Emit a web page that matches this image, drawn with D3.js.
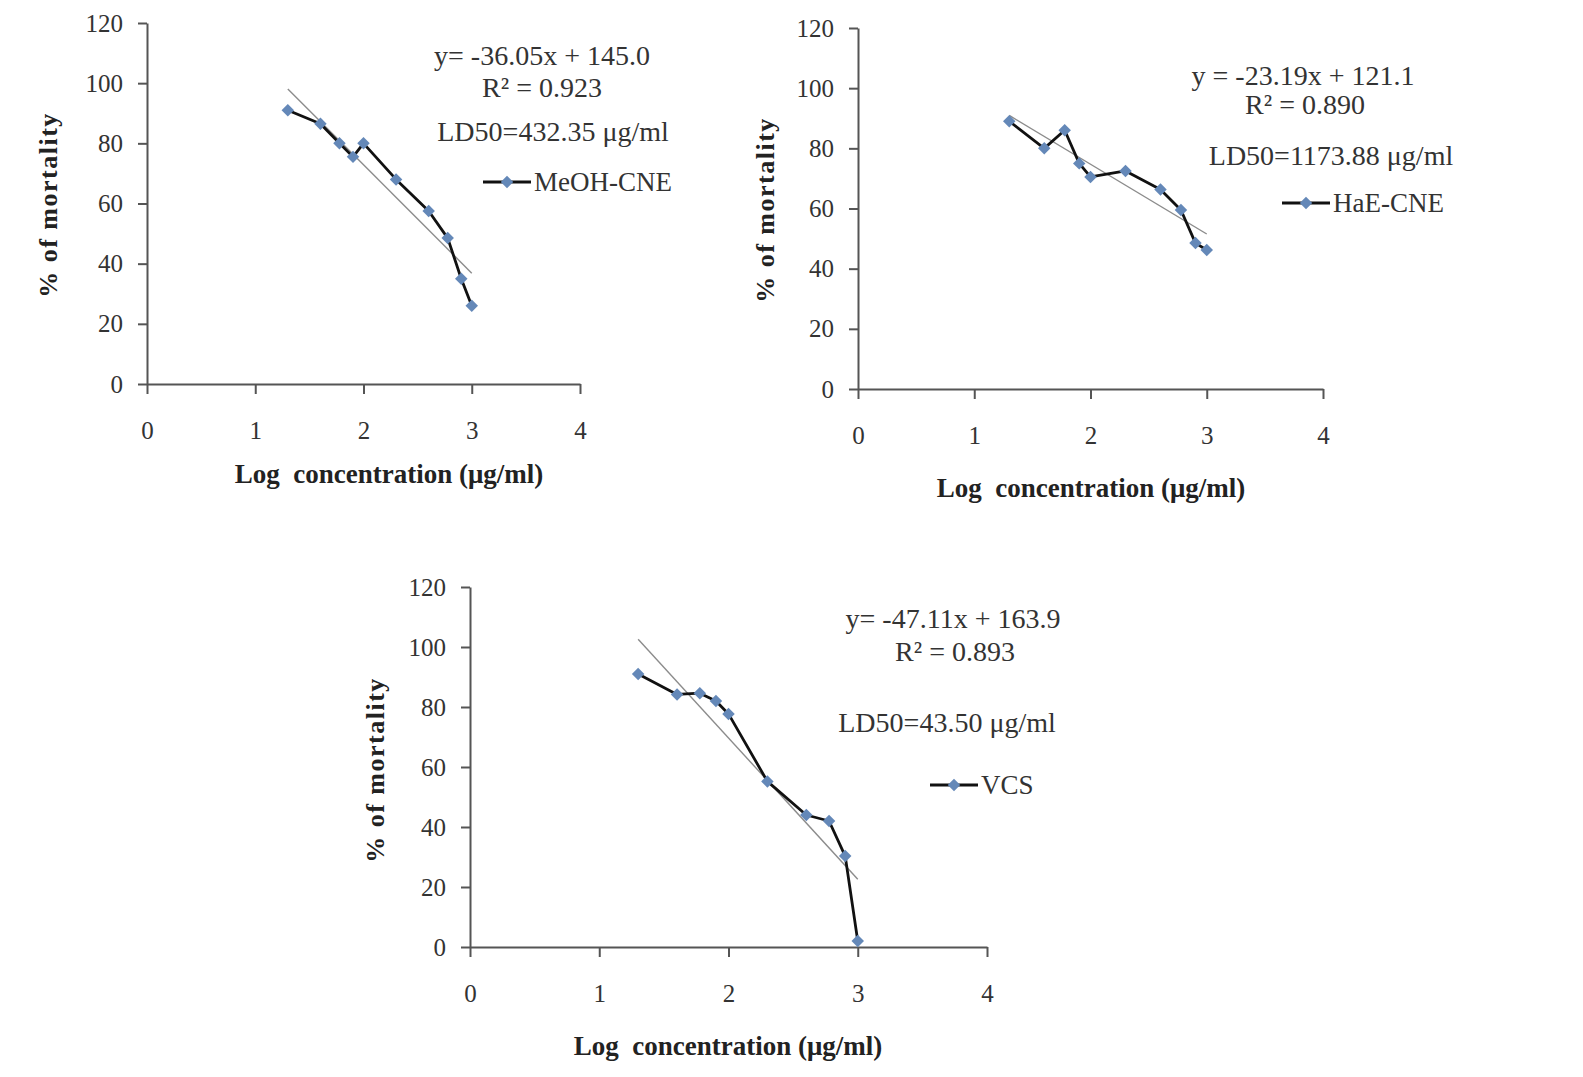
<!DOCTYPE html>
<html>
<head>
<meta charset="utf-8">
<script src="https://cdn.jsdelivr.net/npm/d3@7"></script>
<style>
  body { margin: 0; background: #fff; }
  svg text { font-family: "Liberation Serif", "Times New Roman", serif; }
</style>
</head>
<body>
<div class="chart"></div>
<script>
// log10 of concentrations 20..1000 ug/ml
const logConc = [1.301, 1.602, 1.778, 1.903, 2.0, 2.301, 2.602, 2.778, 2.903, 3.0]
const meohMortality = [91, 86.5, 80, 75.5, 80, 68, 57.5, 48.5, 35, 26]
const haeMortality = [89, 80, 86, 75, 70.5, 72.5, 66.3, 59.5, 48.5, 46.2]
const vcsMortality = [91, 84.2, 84.6, 82, 77.7, 55.2, 44, 42, 30.3, 2]

const seriesNames = ["MeOH-CNE", "HaE-CNE", "VCS"]
const slopes = [-36.05, -23.19, -47.11]
const intercepts = [145.0, 121.1, 163.9]
const rSquared = ["0.923", "0.890", "0.893"]
const ld50 = ["432.35", "1173.88", "43.50"]

const xTicks = [0, 1, 2, 3, 4]
const yTicks = [0, 20, 40, 60, 80, 100, 120]

const svgWidth = 1583
const svgHeight = 1077

const svg = d3.select(".chart").append("svg")
    .attr("width", svgWidth)
    .attr("height", svgHeight)

// panel boxes (pixel frame of each small chart) and where the notes sit
const panels = [
    {values: meohMortality, left: 147, right: 580, top: 23, bottom: 384,
     eq: [542, 65], r2: [542, 97], ld: [553, 141], leg: [483, 182], eqText: "y= ",
     yTitle: [48, 205], xTitle: [389, 483]},
    {values: haeMortality, left: 858, right: 1323, top: 28, bottom: 389,
     eq: [1303, 85], r2: [1305, 114], ld: [1331, 165], leg: [1282, 203], eqText: "y = ",
     yTitle: [765, 210], xTitle: [1091, 497]},
    {values: vcsMortality, left: 470, right: 987, top: 587, bottom: 947,
     eq: [953, 628], r2: [955, 661], ld: [947, 732], leg: [930, 785], eqText: "y= ",
     yTitle: [375, 770], xTitle: [728, 1055]}
]

const axisColor = "#555"
const textColor = "#333"
const markerColor = "#6488b8"

panels.forEach((p, i) => {
    const xScale = d3.scaleLinear().domain([0, 4]).range([p.left, p.right])
    const yScale = d3.scaleLinear().domain([0, 120]).range([p.bottom, p.top])

    const g = svg.append("g")

    // axes
    const xAxis = d3.axisBottom(xScale).tickValues(xTicks).tickFormat(d3.format("d"))
        .tickSize(10).tickSizeOuter(0).tickPadding(27)
    const yAxis = d3.axisLeft(yScale).tickValues(yTicks).tickSize(9).tickSizeOuter(0).tickPadding(15)

    const gx = g.append("g")
        .attr("transform", `translate(0, ${p.bottom})`)
        .call(xAxis)
    const gy = g.append("g")
        .attr("transform", `translate(${p.left}, 0)`)
        .call(yAxis)

    ;[gx, gy].forEach(a => {
        a.select(".domain").attr("stroke", axisColor).attr("stroke-width", 2)
        a.selectAll(".tick line").attr("stroke", axisColor).attr("stroke-width", 2)
        a.selectAll(".tick text")
            .attr("fill", textColor)
            .attr("font-family", "Liberation Serif")
            .attr("font-size", "25px")
    })

    // trend line
    const trendX = [d3.min(logConc), d3.max(logConc)]
    g.append("line")
        .attr("x1", xScale(trendX[0]))
        .attr("y1", yScale(slopes[i] * trendX[0] + intercepts[i]))
        .attr("x2", xScale(trendX[1]))
        .attr("y2", yScale(slopes[i] * trendX[1] + intercepts[i]))
        .attr("stroke", "#8c8c8c")
        .attr("stroke-width", 1.4)

    // data line
    const line = d3.line()
        .x((d, j) => xScale(logConc[j]))
        .y(d => yScale(d))
    g.append("path")
        .datum(p.values)
        .attr("d", line)
        .attr("fill", "none")
        .attr("stroke", "#111")
        .attr("stroke-width", 2.8)
        .attr("stroke-linejoin", "round")

    const diamond = d3.symbol().type(d3.symbolSquare).size(78)
    g.selectAll(".pt")
        .data(p.values)
        .join("path")
        .attr("class", "pt")
        .attr("d", diamond)
        .attr("transform", (d, j) => `translate(${xScale(logConc[j])}, ${yScale(d)}) rotate(45)`)
        .attr("fill", markerColor)

    // equation notes
    const note = (pos, txt) => g.append("text")
        .attr("x", pos[0]).attr("y", pos[1])
        .attr("text-anchor", "middle")
        .attr("fill", textColor)
        .attr("font-size", "28px")
        .text(txt)

    const sign = intercepts[i] >= 0 ? "+" : "-"
    note(p.eq, `${p.eqText}${slopes[i].toFixed(2)}x ${sign} ${Math.abs(intercepts[i]).toFixed(1)}`)
    note(p.r2, `R² = ${rSquared[i]}`)
    note(p.ld, `LD50=${ld50[i]} μg/ml`)

    // legend
    g.append("line")
        .attr("x1", p.leg[0]).attr("x2", p.leg[0] + 48)
        .attr("y1", p.leg[1]).attr("y2", p.leg[1])
        .attr("stroke", "#111").attr("stroke-width", 2.8)
    g.append("path")
        .attr("d", diamond)
        .attr("transform", `translate(${p.leg[0] + 24}, ${p.leg[1]}) rotate(45)`)
        .attr("fill", markerColor)
    g.append("text")
        .attr("x", p.leg[0] + 51).attr("y", p.leg[1] + 9)
        .attr("fill", textColor)
        .attr("font-size", "27px")
        .text(seriesNames[i])

    // axis titles
    g.append("text")
        .attr("transform", `translate(${p.yTitle[0]}, ${p.yTitle[1]}) rotate(-90)`)
        .attr("text-anchor", "middle")
        .attr("dy", "0.35em")
        .attr("font-weight", "bold")
        .attr("font-size", "26px")
        .attr("letter-spacing", "1.5px")
        .attr("fill", "#222")
        .text("% of mortality")

    g.append("text")
        .attr("x", p.xTitle[0]).attr("y", p.xTitle[1])
        .attr("text-anchor", "middle")
        .attr("font-weight", "bold")
        .attr("font-size", "27px")
        .attr("fill", "#222")
        .attr("xml:space", "preserve")
        .text("Log  concentration (μg/ml)")
})
</script>
</body>
</html>
